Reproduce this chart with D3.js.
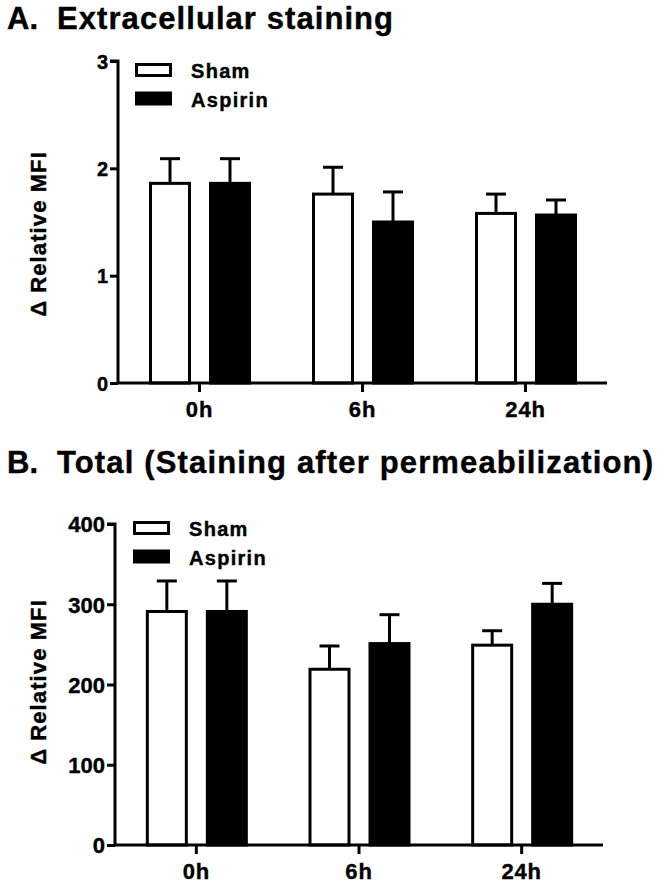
<!DOCTYPE html>
<html>
<head>
<meta charset="utf-8">
<script src="https://cdn.jsdelivr.net/npm/d3@7"></script>
<style>
  html, body { margin: 0; padding: 0; background: #fff; }
  svg { display: block; }
  text { font-family: "Liberation Sans", Arial, sans-serif; font-weight: bold; fill: #000; stroke: #000; stroke-width: 0.4px; }
</style>
</head>
<body>
<svg id="chart" width="664" height="885"></svg>
<script>
// ---- data ----
const categories = ["0h", "6h", "24h"];
const seriesNames = ["Sham", "Aspirin"];

const panelATitleLetter = "A.";
const panelATitle = "Extracellular staining";
const panelAShamMean = [1.86, 1.76, 1.58];
const panelAShamSEM = [0.23, 0.25, 0.18];
const panelAAspirinMean = [1.86, 1.50, 1.565];
const panelAAspirinSEM = [0.23, 0.28, 0.14];
const panelATicks = [0, 1, 2, 3];

const panelBTitleLetter = "B.";
const panelBTitle = "Total (Staining after permeabilization)";
const panelBShamMean = [291, 219, 249];
const panelBShamSEM = [38, 29, 18];
const panelBAspirinMean = [291, 251, 300];
const panelBAspirinSEM = [38, 36, 26];
const panelBTicks = [0, 100, 200, 300, 400];

const yLabel = "\u0394 Relative MFI";

// ---- drawing ----
const svg = d3.select("#chart");
svg.append("rect").attr("width", 664).attr("height", 885).attr("fill", "#fff");

function drawPanel(cfg) {
  const g = svg.append("g");
  // title
  g.append("text").attr("x", 7).attr("y", cfg.titleY).attr("font-size", 31).text(cfg.letter);
  g.append("text").attr("x", 57).attr("y", cfg.titleY).attr("font-size", 31)
    .attr("textLength", cfg.titleLen).attr("lengthAdjust", "spacing").text(cfg.title);

  const y = d3.scaleLinear().domain(cfg.domain).range([cfg.bottom, cfg.top]);
  const x0 = d3.scaleBand().domain(categories).range([cfg.left, cfg.right]).paddingInner(0).paddingOuter(0);
  const groupW = 102;
  const x1 = d3.scaleBand().domain(seriesNames).range([-groupW / 2 + 0.5, groupW / 2 + 0.5]).paddingInner(0.3).paddingOuter(0);

  const rows = [];
  categories.forEach((c, i) => {
    rows.push({ cat: c, s: "Sham", v: cfg.sham[i], e: cfg.shamE[i] });
    rows.push({ cat: c, s: "Aspirin", v: cfg.asp[i], e: cfg.aspE[i] });
  });

  const sw = 3;
  // error bars (upper only)
  const capW = 20;
  rows.forEach(d => {
    const cx = x0(d.cat) + x0.bandwidth() / 2 + x1(d.s) + x1.bandwidth() / 2;
    g.append("line").attr("x1", cx).attr("x2", cx)
      .attr("y1", y(d.v)).attr("y2", y(d.v + d.e))
      .attr("stroke", "#000").attr("stroke-width", sw);
    g.append("line").attr("x1", cx - capW / 2).attr("x2", cx + capW / 2)
      .attr("y1", y(d.v + d.e)).attr("y2", y(d.v + d.e))
      .attr("stroke", "#000").attr("stroke-width", sw);
  });
  // bars
  rows.forEach(d => {
    const bx = x0(d.cat) + x0.bandwidth() / 2 + x1(d.s);
    g.append("rect")
      .attr("x", bx + sw / 2).attr("width", x1.bandwidth() - sw)
      .attr("y", y(d.v)).attr("height", y(cfg.domain[0]) - y(d.v))
      .attr("fill", d.s === "Sham" ? "#fff" : "#000")
      .attr("stroke", "#000").attr("stroke-width", sw);
  });

  // y axis
  const yAxis = d3.axisLeft(y).tickValues(cfg.ticks).tickSize(8).tickPadding(2).tickFormat(d3.format("d"));
  const ya = g.append("g").attr("transform", `translate(${cfg.left},0)`).call(yAxis);
  ya.attr("font-family", null).attr("font-size", null);
  ya.select(".domain").attr("stroke-width", sw).attr("d", `M-8,${cfg.top}H0V${cfg.bottom}`);
  ya.selectAll(".tick line").attr("stroke-width", sw);
  ya.selectAll(".tick text").attr("font-size", cfg.yTickSize).attr("dy", "0.36em");

  // x axis
  const xAxis = d3.axisBottom(x0).tickSize(9).tickPadding(6).tickSizeOuter(0);
  const xa = g.append("g").attr("transform", `translate(0,${cfg.bottom})`).call(xAxis);
  xa.attr("font-family", null).attr("font-size", null);
  xa.select(".domain").attr("stroke-width", sw).attr("d", `M${cfg.left},0H${cfg.right}`);
  xa.selectAll(".tick line").attr("stroke-width", sw);
  xa.selectAll(".tick text").attr("font-size", 22).attr("letter-spacing", 0.8)
    .attr("dy", null).attr("y", 34);

  // y label
  g.append("text")
    .attr("transform", `translate(${cfg.labelX},${cfg.labelY}) rotate(-90)`)
    .attr("text-anchor", "middle").attr("font-size", 22).attr("letter-spacing", 1.1)
    .text(yLabel);

  // legend
  const lg = g.append("g");
  seriesNames.forEach((s, i) => {
    const ly = cfg.legendY + i * 28.5;
    lg.append("rect").attr("x", cfg.legendX + 1.5).attr("y", ly + 1.5)
      .attr("width", 34).attr("height", 11)
      .attr("fill", s === "Sham" ? "#fff" : "#000")
      .attr("stroke", "#000").attr("stroke-width", sw);
    lg.append("text").attr("x", cfg.legendX + 56).attr("y", ly + 15)
      .attr("font-size", 20).attr("letter-spacing", 1.3).text(s);
  });
}

drawPanel({
  letter: panelATitleLetter, title: panelATitle, titleY: 29, titleLen: 336,
  domain: [0, 3], ticks: panelATicks, top: 61, bottom: 383, left: 118, right: 607,
  sham: panelAShamMean, shamE: panelAShamSEM, asp: panelAAspirinMean, aspE: panelAAspirinSEM,
  yTickSize: 20, labelX: 46, labelY: 234, legendX: 135, legendY: 63
});
drawPanel({
  letter: panelBTitleLetter, title: panelBTitle, titleY: 473, titleLen: 596,
  domain: [0, 400], ticks: panelBTicks, top: 524, bottom: 845, left: 115, right: 603,
  sham: panelBShamMean, shamE: panelBShamSEM, asp: panelBAspirinMean, aspE: panelBAspirinSEM,
  yTickSize: 22, labelX: 46, labelY: 682, legendX: 133, legendY: 521
});
</script>
</body>
</html>
